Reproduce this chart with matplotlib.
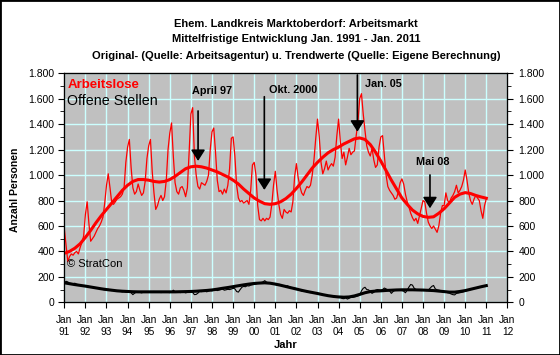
import matplotlib
matplotlib.use('Agg')
import matplotlib.pyplot as plt
from matplotlib.patches import Rectangle
from matplotlib.ticker import MultipleLocator, FuncFormatter

plt.rcParams['font.family'] = ['Liberation Sans', 'DejaVu Sans']

# Arbeitslose, monthly Jan 1991 - Jan 2011
arbeitslose = [
    580, 450, 320, 360, 380, 370, 390, 400, 380, 430, 470, 520,   # 1991
    690, 790, 620, 480, 500, 520, 550, 580, 600, 630, 670, 780,   # 1992
    920, 1010, 900, 780, 770, 790, 810, 820, 830, 850, 900, 1100,  # 1993
    1220, 1280, 1060, 900, 850, 870, 930, 880, 840, 860, 950, 1130,  # 1994
    1230, 1280, 1030, 860, 730, 760, 810, 840, 800, 830, 960, 1200,  # 1995
    1330, 1410, 1150, 940, 870, 850, 900, 910, 880, 830, 900, 1180,  # 1996
    1480, 1530, 1150, 1000, 910, 890, 940, 930, 920, 950, 1000, 1200,  # 1997
    1340, 1370, 1180, 960, 870, 880, 850, 890, 860, 920, 1050, 1290,  # 1998
    1300, 1150, 920, 820, 790, 800, 780, 790, 800, 770, 880, 1080,  # 1999
    1100, 1000, 760, 650, 640, 660, 640, 660, 650, 670, 770, 920,  # 2000
    1030, 880, 770, 690, 660, 730, 710, 700, 720, 710, 790, 990,  # 2001
    1090, 980, 910, 860, 840, 880, 910, 900, 920, 1000, 1120, 1290,  # 2002
    1440, 1300, 1100, 1010, 1050, 1110, 1040, 1070, 1090, 1070, 1140, 1310,  # 2003
    1440, 1260, 1130, 1180, 1080, 1140, 1210, 1160, 1180, 1190, 1310, 1420,  # 2004
    1600, 1640, 1480, 1350, 1230, 1180, 1150, 1210, 1120, 1060, 1080, 1220,  # 2005
    1300, 1310, 1150, 1000, 910, 880, 860, 840, 810, 820, 870, 940,  # 2006
    970, 930, 850, 790, 750, 700, 665, 640, 660, 620, 680, 740,  # 2007
    800, 790, 700, 630, 600, 580, 600, 575, 550, 600, 700, 760,  # 2008
    760, 860, 800, 780, 820, 840, 870, 920, 860, 880, 910, 960,  # 2009
    1040, 960, 860, 800, 770, 810, 840, 820, 800, 720, 660, 760,  # 2010
    815,  # 2011
]

# Arbeitslose trend, quarterly (Jan, Apr, Jul, Oct)
trend_arbeitslose = [
    385, 400, 425, 460,
    510, 565, 625, 680,
    730, 780, 830, 880,
    920, 950, 965, 965,
    960, 950, 945, 950,
    965, 990, 1020, 1050,
    1065, 1070, 1065, 1055,
    1040, 1025, 1005, 985,
    960, 930, 890, 855,
    820, 795, 775, 770,
    775, 790, 815, 850,
    895, 945, 1000, 1055,
    1100, 1140, 1175, 1200,
    1220, 1245, 1265, 1285,
    1292, 1280, 1240, 1180,
    1110, 1035, 960, 890,
    820, 770, 725, 695,
    675, 668, 672, 700,
    735, 780, 825, 850,
    862, 855, 840, 828,
    818,
]

# Offene Stellen, monthly Jan 1991 - Jan 2011
offene_stellen = [
    150, 165, 160, 150, 148, 145, 150, 142, 138, 135, 130, 128,
    125, 130, 122, 118, 120, 115, 112, 110, 108, 105, 100, 98,
    100, 102, 96, 92, 95, 90, 92, 88, 85, 82, 84, 80,
    78, 82, 75, 60, 72, 80, 85, 78, 74, 80, 84, 78,
    80, 78, 82, 85, 78, 80, 83, 76, 80, 82, 79, 78,
    76, 80, 95, 84, 78, 80, 76, 82, 80, 74, 78, 80,
    85, 78, 60, 62, 72, 88, 84, 86, 90, 82, 88, 92,
    90, 95, 98, 92, 96, 100, 104, 95, 98, 102, 100, 104,
    110, 106, 85, 80, 100, 118, 125, 122, 130, 128, 135, 138,
    140, 145, 150, 148, 155, 160, 170, 158, 152, 150, 148, 145,
    140, 135, 142, 138, 130, 128, 125, 130, 118, 115, 112, 110,
    108, 104, 95, 88, 85, 90, 82, 78, 76, 80, 74, 72,
    70, 68, 65, 60, 55, 58, 52, 48, 50, 45, 42, 40,
    38, 40, 30, 28, 35, 25, 32, 40, 38, 42, 45, 50,
    55, 90, 110, 118, 100, 98, 85, 70, 78, 95, 100, 98,
    95, 100, 112, 105, 98, 90, 70, 85, 95, 100, 98, 96,
    92, 88, 75, 95, 120, 140, 135, 110, 100, 98, 95, 92,
    95, 98, 92, 96, 110, 125, 132, 105, 98, 95, 92, 90,
    86, 80, 75, 72, 65, 60, 58, 70, 72, 75, 78, 82,
    88, 92, 95, 100, 102, 108, 112, 115, 118, 122, 125, 128,
    132,
]

trend_offene = [
    153, 146, 139, 133,
    127, 120, 113, 106,
    100, 95, 90, 87,
    85, 83, 82, 82,
    82, 82, 82, 82,
    82, 82, 83, 84,
    85, 87, 90, 93,
    97, 103, 110, 116,
    123, 130, 137, 143,
    148, 151, 153, 150,
    143, 134, 124, 114,
    104, 94, 85, 77,
    69, 60, 52, 46,
    42, 40, 42, 50,
    62, 75, 84, 88,
    90, 93, 95, 97,
    98, 98, 98, 97,
    96, 94, 92, 88,
    84, 80, 80, 85,
    92, 102, 112, 122,
    131,
]

years = list(range(1991, 2013))
year_labels = ['Jan\n%02d' % (y % 100) for y in years]

# arrow notes: label, x (year), label pos, arrow top, arrow tip
notes = [
    ('April 97', 1997.34, (1998.0, 1660), 1504, 1111),
    ('Okt. 2000', 2000.48, (2001.85, 1669), 1616, 883),
    ('Jan. 05', 2004.89, (2006.1, 1716), 1787, 1341),
    ('Mai 08', 2008.33, (2008.47, 1103), 1001, 739),
]

x_month = [1991 + i / 12 for i in range(len(arbeitslose))]
x_quarter = [1991 + i / 4 for i in range(len(trend_arbeitslose))]

fig = plt.figure(figsize=(5.6, 3.55), dpi=100)
ax = fig.add_axes([0.1148, 0.1485, 0.7913, 0.645])
ax.set_facecolor('#c0c0c0')

ax.plot(x_month, arbeitslose, color='#ff0000', lw=0.9, zorder=3)
ax.plot(x_quarter, trend_arbeitslose, color='#ff0000', lw=2.2, zorder=4)
ax.plot(x_month, offene_stellen, color='black', lw=0.8, zorder=3)
ax.plot(x_quarter, trend_offene, color='black', lw=2.2, zorder=4)

ax.set_xlim(1991, 2012)
ax.set_ylim(0, 1800)
ax.set_xticks(years)
ax.set_xticklabels(year_labels, fontsize=7.3, linespacing=1.25)
ax.yaxis.set_major_locator(MultipleLocator(200))
ax.yaxis.set_minor_locator(MultipleLocator(100))
fmt = FuncFormatter(lambda v, p: '{:,.0f}'.format(v).replace(',', '.'))
ax.yaxis.set_major_formatter(fmt)
ax.tick_params(axis='both', which='major', length=4, labelsize=7.5, direction='out')
ax.tick_params(axis='x', pad=5, labelsize=7.3)
ax.tick_params(axis='y', pad=3)
ax.tick_params(axis='y', which='minor', length=3, direction='out')
ax.grid(True, which='major', color='#ccffff', lw=1, zorder=1)
ax.set_axisbelow(True)
for s in ax.spines.values():
    s.set_linewidth(0.9)

ax2 = ax.twinx()
ax2.set_ylim(0, 1800)
ax2.yaxis.set_major_locator(MultipleLocator(200))
ax2.yaxis.set_minor_locator(MultipleLocator(100))
ax2.yaxis.set_major_formatter(fmt)
ax2.tick_params(axis='y', which='major', length=4, labelsize=7.5, pad=4)
ax2.tick_params(axis='y', which='minor', length=3)

for label, xa, (tx, ty), top, tip in notes:
    ax.annotate('', xy=(xa, tip), xytext=(xa, top),
                arrowprops=dict(arrowstyle='-|>,head_length=0.55,head_width=0.35',
                                color='black', lw=1.2, mutation_scale=12,
                                shrinkA=0, shrinkB=0), zorder=5)
    ax.text(tx, ty, label, fontsize=7.8, fontweight='bold', ha='center', va='center', zorder=5)

ax.text(0.007, 0.950, 'Arbeitslose', color='#ff0000', fontsize=9.5, fontweight='bold',
        transform=ax.transAxes, va='center')
ax.text(0.007, 0.878, 'Offene Stellen', color='black', fontsize=10.3,
        transform=ax.transAxes, va='center')
ax.text(0.006, 0.167, '© StratCon', color='black', fontsize=8,
        transform=ax.transAxes, va='center')

ax.set_xlabel('Jahr', fontsize=8, fontweight='bold', labelpad=2)
fig.text(0.027, 0.465, 'Anzahl Personen', rotation=90, fontsize=7.5, fontweight='bold',
         ha='center', va='center')

fig.text(0.5286, 0.932, 'Ehem. Landkreis Marktoberdorf: Arbeitsmarkt', fontsize=8,
         fontweight='bold', ha='center', va='center')
fig.text(0.5286, 0.8915, 'Mittelfristige Entwicklung Jan. 1991 - Jan. 2011', fontsize=8,
         fontweight='bold', ha='center', va='center')
fig.text(0.5286, 0.841, 'Original- (Quelle: Arbeitsagentur) u. Trendwerte (Quelle: Eigene Berechnung)',
         fontsize=8, fontweight='bold', ha='center', va='center')

fig.patches.append(Rectangle((0, 0), 1, 1, transform=fig.transFigure, fill=False,
                             edgecolor='black', lw=2))

fig.savefig('out.png', dpi=100)
